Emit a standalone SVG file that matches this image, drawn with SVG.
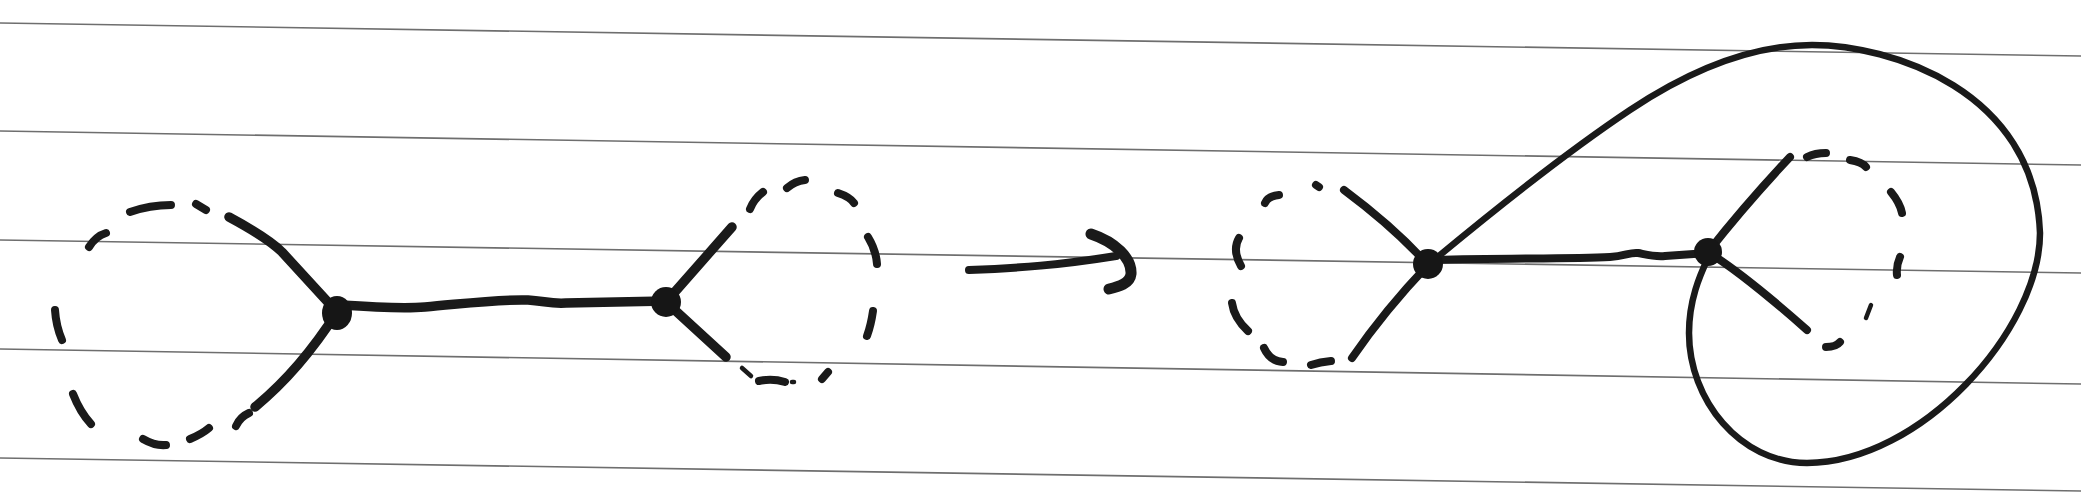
<svg xmlns="http://www.w3.org/2000/svg" width="2081" height="500" viewBox="0 0 2081 500">
<style>
.rule{stroke:#6e6e6e;stroke-width:1.6;fill:none}
.edge{stroke:#1a1a1a;stroke-width:9.5;fill:none;stroke-linecap:round;stroke-linejoin:round}
.mid{stroke-width:8}
.thin{stroke-width:6.5}
.dash{stroke:#1a1a1a;stroke-width:8;fill:none;stroke-linecap:round;stroke-linejoin:round}
.sm{stroke-width:4.5}
.dot{fill:#161616}
</style>
<rect width="2081" height="500" fill="#ffffff"/>
<g id="paper-lines">
<line class="rule" x1="0" y1="23" x2="2081" y2="56"/>
<line class="rule" x1="0" y1="131" x2="2081" y2="165"/>
<line class="rule" x1="0" y1="240" x2="2081" y2="273"/>
<line class="rule" x1="0" y1="349" x2="2081" y2="384"/>
<line class="rule" x1="0" y1="458" x2="2081" y2="491"/>
</g>
<g id="connectors">
<path class="edge" d="M229,217 Q268,238 282,252 L337,312"/>
<path class="edge" d="M337,312 Q300,370 255,407"/>
<path class="edge" d="M339,305 C370,307 400,309 425,307 C470,303 500,299 528,300 C545,301 550,304 566,303 L666,301"/>
<path class="edge" d="M666,302 L732,227"/>
<path class="edge" d="M666,302 L726,357"/>
<path class="edge mid" d="M969,270 C1020,268 1060,265 1116,256"/>
<path class="edge" style="stroke-width:11" d="M1091,234 C1115,242 1132,258 1131,274 C1130,284 1118,287 1109,289"/>
<path class="edge mid" d="M1428,265 Q1395,228 1344,190"/>
<path class="edge mid" d="M1428,265 Q1385,310 1352,358"/>
<path class="edge mid" d="M1436,260 C1500,258 1570,259 1610,257 C1625,256 1630,252 1638,253 C1648,255 1655,257 1665,256 L1708,253"/>
<path class="edge mid" d="M1708,252 Q1745,205 1790,157"/>
<path class="edge mid" d="M1708,252 Q1745,275 1807,330"/>
<path class="edge thin" d="M1428,265 C1500,205 1570,150 1630,110 C1690,70 1750,45 1812,45 C1890,45 2035,90 2040,233 C2040,330 1920,463 1807,463 C1740,463 1689,400 1689,333 C1689,300 1700,275 1708,258"/>
</g>
<g id="dashed-circle-left">
<path class="dash" d="M130,212 Q150,205 171,205"/>
<path class="dash" d="M196,204 L206,210"/>
<path class="dash" d="M89,247 Q96,236 106,233"/>
<path class="dash" d="M55,310 Q56,326 62,340"/>
<path class="dash" d="M73,394 Q80,412 91,424"/>
<path class="dash" d="M143,439 Q155,446 166,445"/>
<path class="dash" d="M190,439 Q202,434 209,428"/>
<path class="dash" d="M236,426 Q240,417 249,413"/>
</g>
<g id="dashed-circle-b">
<path class="dash" d="M750,209 Q754,199 763,192"/>
<path class="dash" d="M787,188 Q795,181 805,180"/>
<path class="dash" d="M838,193 Q850,197 854,203"/>
<path class="dash" d="M868,237 Q876,250 877,264"/>
<path class="dash" d="M873,311 Q871,325 867,336"/>
<path class="dash sm" d="M742,368 L751,376"/>
<path class="dash" d="M759,381 Q772,378 785,382"/>
<path class="dash sm" d="M792,382 L794,382"/>
<path class="dash" d="M822,379 L828,372"/>
</g>
<g id="dashed-circle-c">
<path class="dash" d="M1265,203 Q1268,196 1279,195"/>
<path class="dash" d="M1316,185 L1319,187"/>
<path class="dash" d="M1239,238 Q1232,250 1241,266"/>
<path class="dash" d="M1232,303 Q1234,318 1248,331"/>
<path class="dash" d="M1264,348 Q1270,361 1283,362"/>
<path class="dash" d="M1311,365 Q1320,362 1331,361"/>
</g>
<g id="dashed-circle-d">
<path class="dash" d="M1807,157 Q1815,153 1826,153"/>
<path class="dash" d="M1850,160 Q1862,162 1866,167"/>
<path class="dash" d="M1891,192 Q1900,203 1902,213"/>
<path class="dash" d="M1900,257 Q1896,266 1897,275"/>
<path class="dash sm" d="M1871,305 L1866,318"/>
<path class="dash" d="M1840,342 Q1836,347 1826,347"/>
</g>
<g id="node-a"><ellipse class="dot" cx="337" cy="313" rx="15" ry="17"/></g>
<g id="node-b"><circle class="dot" cx="666" cy="302" r="15"/></g>
<g id="node-c"><circle class="dot" cx="1428" cy="264" r="15"/></g>
<g id="node-d"><circle class="dot" cx="1708" cy="252" r="14"/></g>
</svg>
